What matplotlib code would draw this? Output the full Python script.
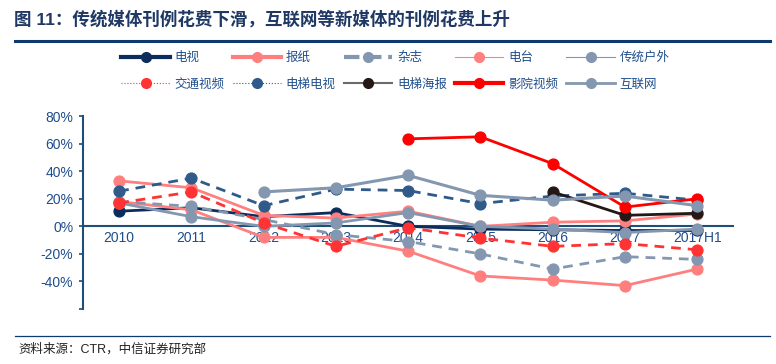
import numpy as np
import matplotlib
matplotlib.use("Agg")
import matplotlib.pyplot as plt
from matplotlib.lines import Line2D

plt.rcParams['font.family'] = ['Liberation Sans', 'Noto Sans CJK SC', 'DejaVu Sans']

# データ
years = ['2010', '2011', '2012', '2013', '2014', '2015', '2016', '2017', '2017H1']
nan = np.nan
tv = [11, 13.5, 7, 10, 0, -2, -2.5, -3, -3]              # 电视
newspaper = [18, 12, -8, -8, -18, -36, -39, -43, -31]     # 报纸
magazine = [18, 14.5, 5, -6, -11, -20, -31, -22, -24]     # 杂志
radio = [33, 28, 8, 6, 11, 0, 3, 4, 9]                    # 电台
outdoor = [17, 7, 0, 2.5, 10, 0, -2, -4.5, -2]            # 传统户外
transit = [17, 25, 2.5, -14.5, -1, -8.5, -14.5, -12.5, -17]  # 交通视频
elev_tv = [25.5, 35, 15, 27, 26, 16.5, 22, 24, 19]        # 电梯电视
elev_poster = [nan, nan, nan, nan, nan, nan, 25, 8, 9.5]  # 电梯海报
cinema = [nan, nan, nan, nan, 63.5, 65, 45.5, 14, 20]     # 影院视频
internet = [nan, nan, 25, 28, 37, 22.5, 19, 22, 15]       # 互联网

series = [
    ('电视', tv, '#0c2d5c', '-', 2.0),
    ('报纸', newspaper, '#ff7f7f', '-', 2.0),
    ('杂志', magazine, '#8497b0', '--', 2.0),
    ('电台', radio, '#ff8080', '-', 2.0),
    ('传统户外', outdoor, '#8497b0', '-', 2.0),
    ('交通视频', transit, '#ff3333', '--', 2.0),
    ('电梯电视', elev_tv, '#2f5a8a', '--', 2.0),
    ('电梯海报', elev_poster, '#231815', '-', 2.0),
    ('影院视频', cinema, '#ff0000', '-', 2.0),
    ('互联网', internet, '#8497b0', '-', 2.2),
]
legend_lw = [3.0, 3.0, 3.0, 0.8, 0.8, 0.8, 0.8, 1.5, 3.0, 2.0]
legend_ls = ['-', '-', '--', '-', '-', ':', ':', '-', '-', '-']
legend_linecolor = [None, None, None, None, None, None, None, '#6b6b6b', None, None]

fig = plt.figure(figsize=(7.76, 3.64), dpi=100)
ax = fig.add_axes([0.107, 0.151, 0.838, 0.530])

x = np.arange(len(years))
handles = []
for i, (name, vals, col, ls, lw) in enumerate(series):
    ax.plot(x, vals, ls=ls, color=col, lw=lw, marker='o', ms=7.8,
            markerfacecolor=col, markeredgecolor=col, dashes=(3.5, 2.5) if ls == '--' else (None, None))
    lc = legend_linecolor[i] or col
    handles.append(Line2D([], [], color=lc, lw=legend_lw[i], ls=legend_ls[i], marker='o', ms=7,
                          markerfacecolor=col, markeredgecolor=col))

ax.set_xlim(-0.5, 8.5)
ax.set_ylim(-60, 80)
ax.set_yticks(np.arange(-60, 81, 20))
ax.set_yticklabels([''] + [f'{v}%' for v in range(-40, 81, 20)])
ax.set_xticks(x)
ax.set_xticklabels(years)

axis_col = '#1f4e79'
ax.spines['top'].set_visible(False)
ax.spines['right'].set_visible(False)
ax.spines['bottom'].set_position(('data', 0))
ax.spines['bottom'].set_color(axis_col)
ax.spines['bottom'].set_linewidth(1.5)
ax.spines['bottom'].set_zorder(1.5)
ax.spines['left'].set_color(axis_col)
ax.spines['left'].set_linewidth(1.5)
ax.tick_params(axis='x', length=0, pad=3, labelsize=10, labelcolor='#1f4e8c')
ax.tick_params(axis='y', length=3, width=1.2, color=axis_col, pad=4, labelsize=10, labelcolor='#1f4e8c')

# 凡例（行優先に並べ替え）
order = [0, 5, 1, 6, 2, 7, 3, 8, 4, 9]
fig.legend([handles[i] for i in order], [series[i][0] for i in order],
           ncol=5, loc='upper left', bbox_to_anchor=(0.142, 0.888), frameon=False,
           fontsize=9, handlelength=3.85, handletextpad=0.4, columnspacing=0.65,
           labelspacing=1.15, labelcolor='#1f4e8c')

# タイトルと出典
fig.text(0.018, 0.948, '图 11：传统媒体刊例花费下滑，互联网等新媒体的刊例花费上升',
         fontsize=12.6, fontweight='bold', color='#1f3864', va='center', ha='left')
fig.add_artist(Line2D([0.019, 0.992], [0.887, 0.887], color='#0f3a6e', lw=2.2,
                      transform=fig.transFigure))
fig.add_artist(Line2D([0.019, 0.992], [0.077, 0.077], color='#0f3a6e', lw=0.9,
                      transform=fig.transFigure))
fig.text(0.024, 0.041, '资料来源：CTR，中信证券研究部', fontsize=9, color='#222222',
         va='center', ha='left')

fig.savefig('out.png', dpi=100)
